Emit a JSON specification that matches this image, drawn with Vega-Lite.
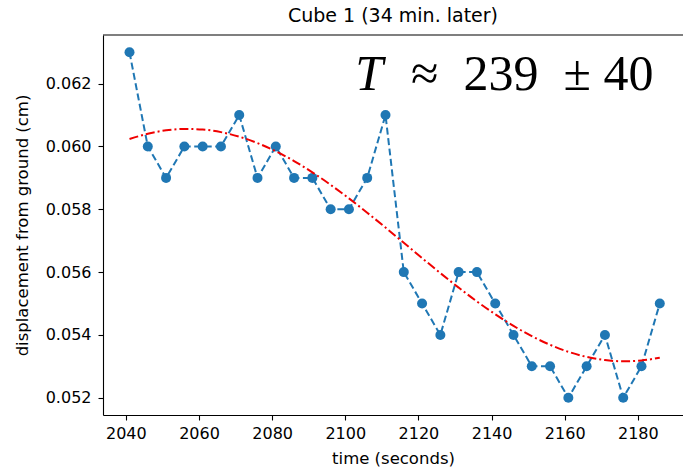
{
  "$schema": "https://vega.github.io/schema/vega-lite/v6.json",
  "width": 580,
  "height": 380,
  "autosize": {"type": "none"},
  "padding": {"left": 103, "top": 35, "right": 0, "bottom": 54},
  "background": "white",
  "config": {"view": {"stroke": null}, "font": "DejaVu Sans"},
  "title": {"text": "Cube 1 (34 min. later)", "font": "DejaVu Sans", "fontSize": 19, "fontWeight": "normal", "color": "#000", "offset": 8, "anchor": "middle"},
  "datasets": {
    "obs": [
      {"time": 2041, "disp": 0.063},
      {"time": 2046, "disp": 0.060},
      {"time": 2051, "disp": 0.059},
      {"time": 2056, "disp": 0.060},
      {"time": 2061, "disp": 0.060},
      {"time": 2066, "disp": 0.060},
      {"time": 2071, "disp": 0.061},
      {"time": 2076, "disp": 0.059},
      {"time": 2081, "disp": 0.060},
      {"time": 2086, "disp": 0.059},
      {"time": 2091, "disp": 0.059},
      {"time": 2096, "disp": 0.058},
      {"time": 2101, "disp": 0.058},
      {"time": 2106, "disp": 0.059},
      {"time": 2111, "disp": 0.061},
      {"time": 2116, "disp": 0.056},
      {"time": 2121, "disp": 0.055},
      {"time": 2126, "disp": 0.054},
      {"time": 2131, "disp": 0.056},
      {"time": 2136, "disp": 0.056},
      {"time": 2141, "disp": 0.055},
      {"time": 2146, "disp": 0.054},
      {"time": 2151, "disp": 0.053},
      {"time": 2156, "disp": 0.053},
      {"time": 2161, "disp": 0.052},
      {"time": 2166, "disp": 0.053},
      {"time": 2171, "disp": 0.054},
      {"time": 2176, "disp": 0.052},
      {"time": 2181, "disp": 0.053},
      {"time": 2186, "disp": 0.055}
    ],
    "fit": [
      {"time": 2041, "disp": 0.060237},
      {"time": 2046, "disp": 0.060406},
      {"time": 2051, "disp": 0.060514},
      {"time": 2056, "disp": 0.060559},
      {"time": 2061, "disp": 0.060540},
      {"time": 2066, "disp": 0.060457},
      {"time": 2071, "disp": 0.060312},
      {"time": 2076, "disp": 0.060108},
      {"time": 2081, "disp": 0.059848},
      {"time": 2086, "disp": 0.059536},
      {"time": 2091, "disp": 0.059177},
      {"time": 2096, "disp": 0.058779},
      {"time": 2101, "disp": 0.058348},
      {"time": 2106, "disp": 0.057891},
      {"time": 2111, "disp": 0.057418},
      {"time": 2116, "disp": 0.056933},
      {"time": 2121, "disp": 0.056447},
      {"time": 2126, "disp": 0.055969},
      {"time": 2131, "disp": 0.055507},
      {"time": 2136, "disp": 0.055064},
      {"time": 2141, "disp": 0.054660},
      {"time": 2146, "disp": 0.054287},
      {"time": 2151, "disp": 0.053961},
      {"time": 2156, "disp": 0.053685},
      {"time": 2161, "disp": 0.053463},
      {"time": 2166, "disp": 0.053300},
      {"time": 2171, "disp": 0.053198},
      {"time": 2176, "disp": 0.053160},
      {"time": 2181, "disp": 0.053186},
      {"time": 2186, "disp": 0.053275}
    ]
  },
  "layer": [
    {
      "data": {"name": "obs"},
      "mark": {"type": "line", "color": "#1f77b4", "strokeWidth": 2, "strokeDash": [7, 3.5]},
      "encoding": {
        "x": {
          "field": "time", "type": "quantitative",
          "scale": {"domain": [2033.75, 2192.35], "nice": false, "zero": false},
          "axis": {
            "title": "time (seconds)", "values": [2040, 2060, 2080, 2100, 2120, 2140, 2160, 2180], "format": "d",
            "grid": false, "labelFlush": false, "labelFontSize": 16, "labelColor": "#000", "labelPadding": 5,
            "tickSize": 5, "tickColor": "#000", "tickWidth": 1.1, "domainColor": "#000", "domainWidth": 1.1,
            "titleFontSize": 16.5, "titleFontWeight": "normal", "titleColor": "#000", "titlePadding": 9
          }
        },
        "y": {
          "field": "disp", "type": "quantitative",
          "scale": {"domain": [0.05145, 0.06355], "nice": false, "zero": false},
          "axis": {
            "title": "displacement from ground (cm)", "values": [0.052, 0.054, 0.056, 0.058, 0.060, 0.062], "format": ".3f",
            "grid": false, "labelFontSize": 16, "labelColor": "#000", "labelPadding": 7,
            "tickSize": 5, "tickColor": "#000", "tickWidth": 1.1, "domainColor": "#000", "domainWidth": 1.1,
            "titleFontSize": 16.5, "titleFontWeight": "normal", "titleColor": "#000", "titlePadding": 15
          }
        }
      }
    },
    {
      "data": {"name": "obs"},
      "mark": {"type": "point", "filled": true, "size": 100, "opacity": 1, "color": "#1f77b4"},
      "encoding": {
        "x": {"field": "time", "type": "quantitative"},
        "y": {"field": "disp", "type": "quantitative"}
      }
    },
    {
      "data": {"name": "fit"},
      "mark": {"type": "line", "color": "#f00000", "strokeWidth": 2, "strokeDash": [9, 3, 2, 3], "interpolate": "monotone"},
      "encoding": {
        "x": {"field": "time", "type": "quantitative"},
        "y": {"field": "disp", "type": "quantitative"}
      }
    },
    {
      "data": {"values": [{}]},
      "mark": {"type": "rule", "color": "#000", "strokeWidth": 1.1},
      "encoding": {"y": {"datum": 0.06355}}
    },
    {
      "data": {"values": [{}]},
      "mark": {"type": "text", "text": "T", "font": "Liberation Serif", "fontStyle": "italic", "fontSize": 50, "align": "left", "baseline": "alphabetic", "color": "#000"},
      "encoding": {"x": {"datum": 2102.7}, "y": {"datum": 0.06181}}
    },
    {
      "data": {"values": [{}]},
      "mark": {"type": "text", "text": "≈\u00a0\u00a0239\u00a0\u00a0±\u00a040", "font": "Liberation Serif", "fontSize": 50, "align": "left", "baseline": "alphabetic", "color": "#000"},
      "encoding": {"x": {"datum": 2118}, "y": {"datum": 0.06181}}
    }
  ]
}
